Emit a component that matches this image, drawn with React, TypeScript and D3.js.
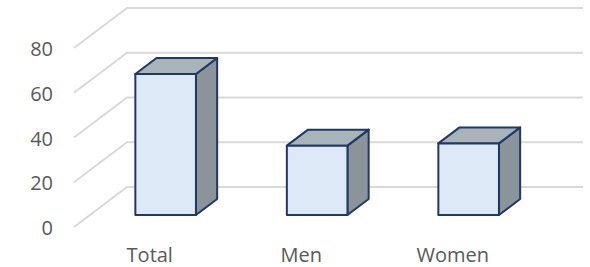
import React from "react";
import * as d3 from "d3";

const categories = ["Total", "Men", "Women"];
const values = [63, 31, 32];
const yTicks = [0, 20, 40, 60, 80];

const W = 590;
const H = 267;
const DX = 53;
const DY = -40;
const Z0 = 0.3;
const Z1 = 0.7;

export default function App() {
  const x = d3.scaleBand<string>().domain(categories).range([74, 528.5]).paddingInner(0).paddingOuter(0);
  const y = d3.scaleLinear().domain([0, 80]).range([227, 48]);
  const backRight = 583;
  const P = (px: number, v: number, z: number): [number, number] => [px + DX * z, y(v) + DY * z];
  const poly = (pts: [number, number][]) => pts.map((p) => p.join(",")).join(" ");
  const font = "'Open Sans', 'Liberation Sans', sans-serif";

  return (
    <svg width={W} height={H} style={{ position: "absolute", left: 0, top: 0, background: "#fff" }}>
      {yTicks.map((t) => {
        const line = d3.line()([
          P(74, t, 0),
          P(74, t, 1),
          [backRight, y(t) + DY],
        ]);
        return <path key={"g" + t} d={line || ""} fill="none" stroke="#d9d9d9" strokeWidth={2} />;
      })}
      {yTicks.map((t) => (
        <text
          key={"t" + t}
          x={53}
          y={y(t) + 8}
          textAnchor="end"
          fontFamily={font}
          fontSize={20}
          fill="#595959"
        >
          {t}
        </text>
      ))}
      {categories.map((c, i) => {
        const bw = x.bandwidth();
        const x0 = (x(c) as number) + bw * 0.3;
        const x1 = x0 + bw * 0.4;
        const v = values[i];
        const stroke = "#1f3864";
        return (
          <g key={c} strokeLinejoin="round">
            <polygon
              points={poly([P(x1, 0, Z0), P(x1, v, Z0), P(x1, v, Z1), P(x1, 0, Z1)])}
              fill="#8b949b"
              stroke={stroke}
              strokeWidth={2}
            />
            <polygon
              points={poly([P(x0, v, Z0), P(x1, v, Z0), P(x1, v, Z1), P(x0, v, Z1)])}
              fill="#a9b3ba"
              stroke={stroke}
              strokeWidth={2}
            />
            <polygon
              points={poly([P(x0, 0, Z0), P(x1, 0, Z0), P(x1, v, Z0), P(x0, v, Z0)])}
              fill="#dde9f7"
              stroke={stroke}
              strokeWidth={2}
            />
          </g>
        );
      })}
      {categories.map((c) => (
        <text
          key={"c" + c}
          x={(x(c) as number) + x.bandwidth() / 2}
          y={262}
          textAnchor="middle"
          fontFamily={font}
          fontSize={20}
          fill="#595959"
        >
          {c}
        </text>
      ))}
    </svg>
  );
}
